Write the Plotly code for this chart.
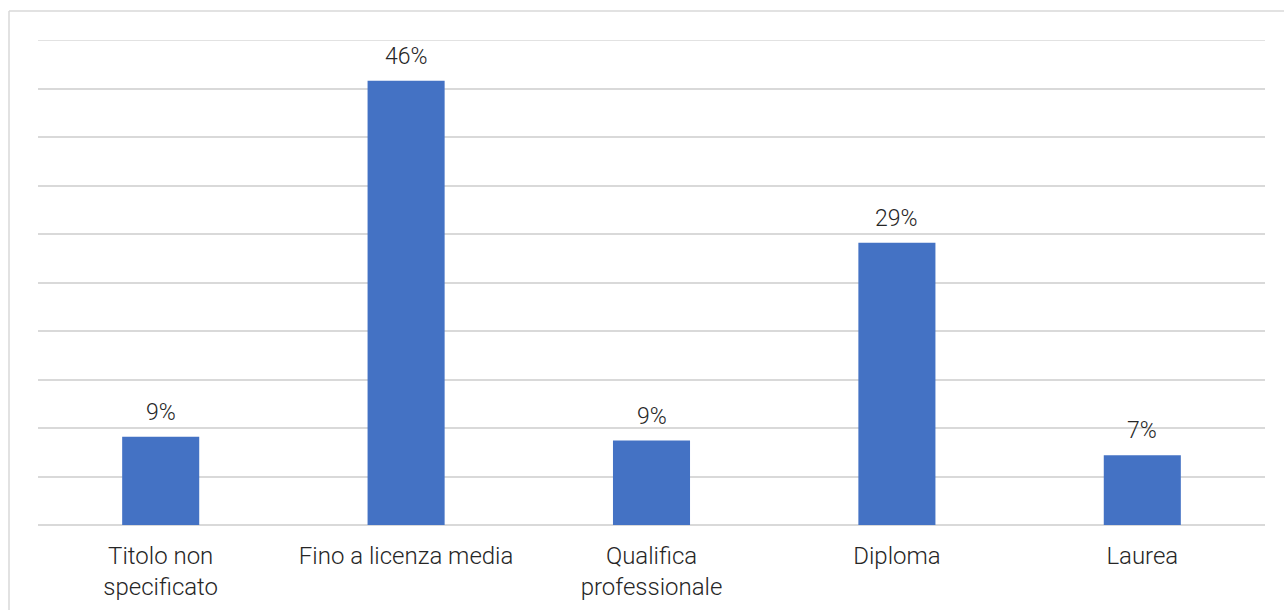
import plotly.graph_objects as go

categories = ["Titolo non<br>specificato", "Fino a licenza media", "Qualifica<br>professionale", "Diploma", "Laurea"]
shares = [9.1, 45.8, 8.7, 29.1, 7.2]
y_ticks = [0, 5, 10, 15, 20, 25, 30, 35, 40, 45, 50]

W, H = 1284, 610
L, R, T, B = 38, 19, 40, 85
plot_w = W - L - R
plot_h = H - T - B

bar_color = "#4472C4"
grid_color = "#d9d9d9"
text_color = "#262626"
font_family = "Roboto, 'Open Sans', sans-serif"

fig = go.Figure(
    go.Bar(
        x=categories,
        y=shares,
        marker=dict(color=bar_color, line=dict(width=0)),
        hoverinfo="skip",
    )
)

# Value labels above each bar
for cat, val in zip(categories, shares):
    fig.add_annotation(
        x=cat, y=val, text=f"{val:.0f}%", showarrow=False,
        yanchor="bottom", yshift=9,
        font=dict(family=font_family, size=23, color=text_color, weight=300),
    )

# Top gridline at the end of the value range
fig.add_shape(type="line", xref="paper", yref="y", x0=0, x1=1,
              y0=y_ticks[-1], y1=y_ticks[-1], line=dict(color=grid_color, width=1.5),
              layer="below")

# Chart-area frame (top and left edges)
fx0 = (9 - L) / plot_w
fy0 = 1 + (T - 11) / plot_h
fig.add_shape(type="line", xref="paper", yref="paper", x0=fx0, x1=1 + R / plot_w + 0.01,
              y0=fy0, y1=fy0, line=dict(color=grid_color, width=1.5))
fig.add_shape(type="line", xref="paper", yref="paper", x0=fx0, x1=fx0,
              y0=fy0, y1=-B / plot_h - 0.01, line=dict(color=grid_color, width=1.5))

fig.update_layout(
    width=W, height=H,
    margin=dict(l=L, r=R, t=T, b=B, autoexpand=False),
    paper_bgcolor="white", plot_bgcolor="white",
    bargap=0.686,
    showlegend=False,
    font=dict(family=font_family, color=text_color, weight=300),
    xaxis=dict(
        tickfont=dict(size=24, family=font_family, color=text_color, weight=300),
        showgrid=False, showline=False, ticks="", fixedrange=True,
        ticklabelstandoff=14, automargin=False,
    ),
    yaxis=dict(
        range=[0, 50], tickvals=y_ticks, showticklabels=False,
        showgrid=True, gridcolor=grid_color, gridwidth=1.5,
        zeroline=True, zerolinecolor=grid_color, zerolinewidth=1.5,
        showline=False, ticks="", fixedrange=True, automargin=False,
    ),
)

fig.write_html("out.html", config={"displayModeBar": False})
